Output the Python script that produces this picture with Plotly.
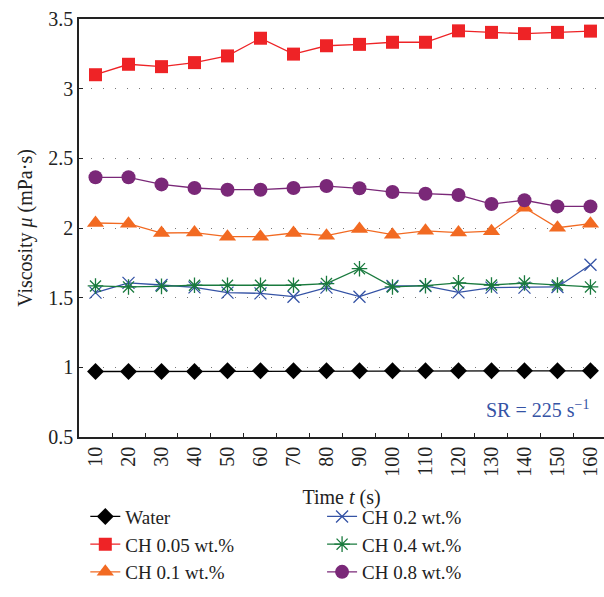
import plotly.graph_objects as go

time_s = ["10", "20", "30", "40", "50", "60", "70", "80", "90", "100", "110", "120", "130", "140", "150", "160"]

water = [0.97, 0.97, 0.97, 0.97, 0.975, 0.975, 0.975, 0.975, 0.975, 0.975, 0.975, 0.975, 0.975, 0.975, 0.975, 0.975]
ch005 = [3.10, 3.175, 3.158, 3.187, 3.235, 3.362, 3.248, 3.308, 3.318, 3.333, 3.333, 3.415, 3.404, 3.395, 3.404, 3.413]
ch01 = [2.036, 2.031, 1.964, 1.967, 1.938, 1.938, 1.964, 1.945, 1.993, 1.952, 1.98, 1.967, 1.977, 2.145, 2.002, 2.031]
ch02 = [1.536, 1.606, 1.591, 1.574, 1.536, 1.531, 1.507, 1.572, 1.507, 1.584, 1.584, 1.538, 1.572, 1.572, 1.577, 1.736]
ch04 = [1.584, 1.577, 1.581, 1.589, 1.589, 1.589, 1.589, 1.601, 1.708, 1.577, 1.586, 1.606, 1.591, 1.605, 1.591, 1.577]
ch08 = [2.364, 2.364, 2.313, 2.287, 2.275, 2.275, 2.287, 2.301, 2.285, 2.258, 2.246, 2.237, 2.172, 2.199, 2.155, 2.155]

y_ticks = [0.5, 1, 1.5, 2, 2.5, 3, 3.5]
y_tick_labels = ["0.5", "1", "1.5", "2", "2.5", "3", "3.5"]

FONT = "Liberation Serif"
FS = 20

series = [
    ("Water", water, "#000000", "diamond", 13, "legend"),
    ("CH 0.05 wt.%", ch005, "#ee2326", "square", 13, "legend"),
    ("CH 0.1 wt.%", ch01, "#f26a22", "triangle-up", 15, "legend"),
    ("CH 0.2 wt.%", ch02, "#3553a5", "x-thin-open", 12, "legend2"),
    ("CH 0.4 wt.%", ch04, "#1a7a3e", "asterisk-open", 13, "legend2"),
    ("CH 0.8 wt.%", ch08, "#7a2878", "circle", 14, "legend2"),
]

fig = go.Figure()
for name, vals, color, sym, size, leg in series:
    open_sym = sym.endswith("open")
    fig.add_trace(go.Scatter(
        x=time_s, y=vals, name=name, mode="lines+markers",
        line=dict(color=color, width=1.3),
        marker=dict(symbol=sym, size=size, color=color,
                    line=dict(color=color, width=1.3 if open_sym else 0)),
        legend=leg, legendgroup=name,
    ))

leg_font = dict(family=FONT, size=19, color="#222222")
fig.update_layout(
    width=604, height=597,
    margin=dict(l=79, r=0, t=19, b=160),
    plot_bgcolor="white", paper_bgcolor="white",
    font=dict(family=FONT, size=FS, color="#222222"),
    showlegend=True,
    legend=dict(x=0.012, y=-0.145, xanchor="left", yanchor="top",
                bgcolor="rgba(0,0,0,0)", tracegroupgap=0, font=leg_font),
    legend2=dict(x=0.463, y=-0.145, xanchor="left", yanchor="top",
                 bgcolor="rgba(0,0,0,0)", tracegroupgap=0, font=leg_font),
    xaxis=dict(
        type="category", range=[-0.5, 15.41], tickangle=-90, automargin=False,
        tickson="boundaries", ticks="inside", ticklen=4, tickcolor="#222222",
        showline=True, linecolor="#222222", linewidth=1.5, mirror=True,
        showgrid=False, tickfont=dict(family=FONT, size=FS),
        title=dict(text="Time <i>t</i> (s)", font=dict(family=FONT, size=FS), standoff=14),
    ),
    yaxis=dict(
        range=[0.5, 3.5], tickvals=y_ticks, ticktext=y_tick_labels, automargin=False,
        ticks="inside", ticklen=4, tickcolor="#222222",
        showline=True, linecolor="#222222", linewidth=1.5,
        showgrid=True, gridcolor="#777777", griddash="1px,11px", gridwidth=1.2,
        zeroline=False, tickfont=dict(family=FONT, size=FS),
        title=dict(text="Viscosity <i>μ</i> (mPa·s)", font=dict(family=FONT, size=FS), standoff=10),
    ),
    annotations=[dict(
        text="SR = 225 s<sup>−1</sup>", x=0.975, y=0.068, xref="paper", yref="paper",
        xanchor="right", yanchor="middle", showarrow=False,
        font=dict(family=FONT, size=FS, color="#3553a5"),
    )],
)

fig.write_html("out.html")
